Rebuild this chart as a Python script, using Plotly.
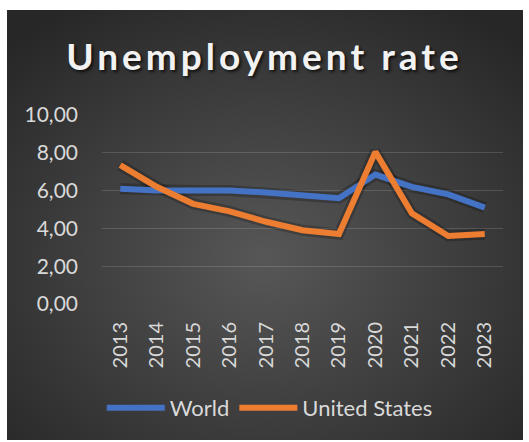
import base64
import plotly.graph_objects as go

years = ["2013", "2014", "2015", "2016", "2017", "2018", "2019", "2020", "2021", "2022", "2023"]
world = [6.1, 6.0, 6.0, 6.0, 5.9, 5.75, 5.6, 6.85, 6.2, 5.8, 5.1]
united_states = [7.35, 6.2, 5.3, 4.9, 4.35, 3.9, 3.7, 8.05, 4.8, 3.6, 3.7]
y_ticks = [0, 2, 4, 6, 8, 10]

W, H = 529, 442
L, R, T, B = 102, 26, 115, 138
pw, ph = W - L - R, H - T - B

# background card (radial gradient) as inline SVG image
svg = (
    '<svg xmlns="http://www.w3.org/2000/svg" width="516" height="430" viewBox="0 0 516 430" preserveAspectRatio="none">'
    '<defs><radialGradient id="g" cx="50%" cy="58%" r="70%">'
    '<stop offset="0%" stop-color="#575757"/><stop offset="100%" stop-color="#272727"/>'
    '</radialGradient></defs><rect width="516" height="430" fill="url(#g)"/></svg>'
)
src = "data:image/svg+xml;base64," + base64.b64encode(svg.encode()).decode()
bx0, bx1, by0, by1 = 7, 523, 10, 440

fig = go.Figure()
# soft shadows under the lines
for vals in (world, united_states):
    fig.add_trace(go.Scatter(x=years, y=vals, mode="lines", showlegend=False, hoverinfo="skip",
                             line=dict(color="rgba(0,0,0,0.22)", width=11)))
fig.add_trace(go.Scatter(x=years, y=world, name="World", mode="lines",
                         line=dict(color="#4472C4", width=6)))
fig.add_trace(go.Scatter(x=years, y=united_states, name="United States", mode="lines",
                         line=dict(color="#ED7D31", width=6)))

fig.update_layout(
    width=W, height=H,
    margin=dict(l=L, r=R, t=T, b=B, pad=0),
    paper_bgcolor="white",
    plot_bgcolor="rgba(0,0,0,0)",
    separators=",.",
    images=[dict(source=src, xref="paper", yref="paper",
                 x=(bx0 - L) / pw, y=(H - B - by0) / ph,
                 sizex=(bx1 - bx0) / pw, sizey=(by1 - by0) / ph,
                 xanchor="left", yanchor="top", sizing="stretch", layer="below")],
    title=dict(
        text='<span style="letter-spacing:4px">Unemployment rate</span>',
        font=dict(family="Lato", size=37, weight="bold", color="#F2F2F2",
                  shadow="2px 2px 3px rgba(0,0,0,0.7)"),
        x=0.5, xref="container", xanchor="center",
        y=1 - 57 / H, yref="container", yanchor="middle",
    ),
    xaxis=dict(
        type="category", range=[-0.5, 10.5], tickangle=-90,
        showgrid=False, showline=False, zeroline=False, ticks="",
        tickfont=dict(family="Lato", size=20, color="#D9D9D9"),
        ticklabelstandoff=13,
    ),
    yaxis=dict(
        range=[0, 10], tickvals=y_ticks, tickformat=".2f",
        showgrid=True, gridcolor="rgba(255,255,255,0.14)", gridwidth=1.3,
        zeroline=False, showline=False, ticks="",
        tickfont=dict(family="Lato", size=21, color="#D9D9D9"),
        ticklabelstandoff=23,
    ),
    legend=dict(
        orientation="h", xref="container", x=0.51, xanchor="center",
        yref="container", y=1 - 408 / H, yanchor="middle",
        font=dict(family="Lato", size=22, color="#D9D9D9"),
        bgcolor="rgba(0,0,0,0)", itemwidth=58, tracegroupgap=0,
    ),
    showlegend=True,
)

fig.write_html("out.html", config={"displayModeBar": False},
               post_script="document.body.style.margin='0';document.body.style.overflow='hidden';")
